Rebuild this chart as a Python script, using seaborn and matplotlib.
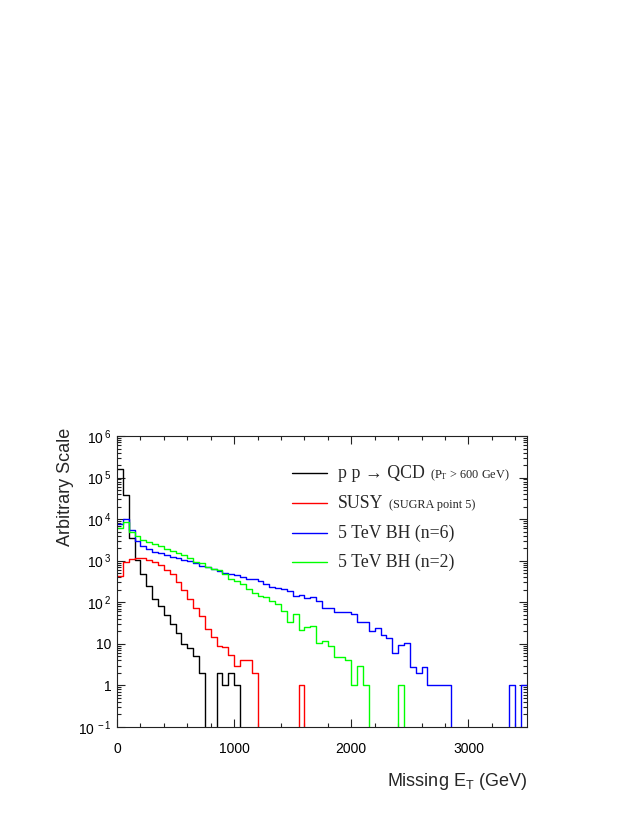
import numpy as np
import pandas as pd
import matplotlib
matplotlib.use("Agg")
import matplotlib.pyplot as plt
import seaborn as sns
from matplotlib.ticker import FixedLocator, MultipleLocator, NullFormatter

# -------------------------------
# 1. Data (counts per 50 GeV bin of missing ET, 0 - 3500 GeV)
# -------------------------------
bin_width = 50
x_max = 3500

qcd = [1.6e5, 3.8e4, 3.5e3, 1.05e3, 480, 250, 120, 80, 50, 30,
       18, 10, 8, 5, 2, 0, 0, 2, 1, 2,
       1, 0, 0, 0, 0, 0, 0, 0, 0, 0,
       0, 0, 0, 0, 0, 0, 0, 0, 0, 0,
       0, 0, 0, 0, 0, 0, 0, 0, 0, 0,
       0, 0, 0, 0, 0, 0, 0, 0, 0, 0,
       0, 0, 0, 0, 0, 0, 0, 0, 0, 0]

susy = [420, 920, 1080, 1150, 1150, 1050, 950, 800, 600, 470,
        310, 195, 123, 74, 47, 23, 15, 9, 8.5, 5.5,
        3, 4, 4, 2, 0, 0, 0, 0, 0, 0,
        0, 1, 0, 0, 0, 0, 0, 0, 0, 0,
        0, 0, 0, 0, 0, 0, 0, 0, 0, 0,
        0, 0, 0, 0, 0, 0, 0, 0, 0, 0,
        0, 0, 0, 0, 0, 0, 0, 0, 0, 0]

bh_n6 = [7500, 10000, 5500, 3000, 2300, 1900, 1650, 1500, 1350, 1250,
         1150, 1050, 1000, 890, 760, 690, 620, 570, 520, 490,
         445, 400, 360, 360, 320, 270, 230, 220, 205, 187,
         141, 148, 128, 135, 108, 71, 71, 57, 59, 59,
         51, 34, 34, 20, 23.5, 16, 13.5, 6, 9.3, 10.6,
         2.8, 2, 2.8, 1, 1, 1, 1, 0, 0, 0,
         0, 0, 0, 0, 0, 0, 0, 1, 0, 1]

bh_n2 = [6200, 8500, 5000, 3900, 3200, 2800, 2500, 2200, 1950, 1700,
         1500, 1350, 1180, 930, 870, 720, 615, 590, 470, 370,
         330, 270, 210, 163, 138, 132, 110, 90, 62, 34,
         52, 21, 25, 27, 10.7, 11.8, 8.9, 4.8, 4.8, 4,
         1, 3, 1, 0, 0, 0, 0, 0, 1, 0,
         0, 0, 0, 0, 0, 0, 0, 0, 0, 0,
         0, 0, 0, 0, 0, 0, 0, 0, 0, 0]

series_names = ["qcd", "susy", "bh6", "bh2"]
series_colors = {"qcd": "#000000", "susy": "#ff0000", "bh6": "#0000ff", "bh2": "#00ff00"}
legend_main = ["p p \u2192 QCD", "SUSY", "5 TeV BH (n=6)", "5 TeV BH (n=2)"]
legend_note = [r"(P$\mathregular{_T}$ > 600 GeV)", "(SUGRA point 5)", "", ""]

y_ticks = [1e-1, 1, 10, 1e2, 1e3, 1e4, 1e5, 1e6]
y_tick_labels = [r"$\mathregular{10^{\,-1}}$", "1", "10", r"$\mathregular{10^{\,2}}$",
                 r"$\mathregular{10^{\,3}}$", r"$\mathregular{10^{\,4}}$",
                 r"$\mathregular{10^{\,5}}$", r"$\mathregular{10^{\,6}}$"]
x_ticks = [0, 1000, 2000, 3000]
x_tick_labels = ["0", "1000", "2000", "3000"]

# -------------------------------
# 2. Long-form table
# -------------------------------
centers = np.arange(bin_width / 2, x_max, bin_width)
df = pd.concat([
    pd.DataFrame({"met": centers, "count": vals, "sample": name})
    for name, vals in zip(series_names, [qcd, susy, bh_n6, bh_n2])
], ignore_index=True)

# -------------------------------
# 3. Plot
# -------------------------------
sns.set_style("ticks")
plt.rcParams["font.family"] = ["Liberation Sans", "DejaVu Sans"]

fig = plt.figure(figsize=(6.31, 8.16), dpi=100)
ax = fig.add_axes([0.1854, 0.1091, 0.6498, 0.3566])

sns.histplot(
    data=df, x="met", weights="count", hue="sample",
    hue_order=["bh2", "bh6", "susy", "qcd"],
    palette=series_colors, binwidth=bin_width, binrange=(0, x_max),
    element="step", fill=False, linewidth=1.0, legend=False, ax=ax,
)

ax.set_yscale("log")
ax.set_xlim(0, x_max)
ax.set_ylim(1e-1, 1e6)

ax.yaxis.set_major_locator(FixedLocator(y_ticks))
ax.set_yticklabels(y_tick_labels)
ax.yaxis.set_minor_locator(FixedLocator(
    [m * 10.0 ** e for e in range(-1, 6) for m in range(2, 10)]))
ax.yaxis.set_minor_formatter(NullFormatter())

ax.xaxis.set_major_locator(FixedLocator(x_ticks))
ax.set_xticklabels(x_tick_labels)
ax.xaxis.set_minor_locator(MultipleLocator(200))

ax.tick_params(which="both", direction="in", top=True, right=True,
               width=0.8, colors="#222222", labelcolor="black")
ax.tick_params(which="major", length=6)
ax.tick_params(which="minor", length=3)
ax.tick_params(axis="x", which="major", labelsize=10, pad=10.5)
ax.tick_params(axis="y", which="major", labelsize=10, pad=4)

for sp in ax.spines.values():
    sp.set_linewidth(0.8)
    sp.set_color("#222222")

ax.set_xlabel(r"Missing $\mathregular{E_T}$ (GeV)", fontsize=13, loc="right")
ax.xaxis.set_label_coords(1.0, -0.15)
ax.set_ylabel("Arbitrary Scale", fontsize=13, loc="top")
ax.yaxis.set_label_coords(-0.105, 1.03)

# -------------------------------
# 4. Legend (drawn by hand, ROOT style)
# -------------------------------
row_y = [0.873, 0.770, 0.667, 0.567]
for name, main, note, y in zip(series_names, legend_main, legend_note, row_y):
    ax.plot([0.427, 0.512], [y, y], transform=ax.transAxes,
            color=series_colors[name], lw=1.0)
    t = ax.text(0.539, y - 0.017, main, transform=ax.transAxes,
                va="baseline", ha="left", fontsize=12.8,
                family=["Liberation Serif", "DejaVu Serif"])
    if note:
        ax.annotate(note, xy=(1, y - 0.017), xycoords=(t, ax.transAxes),
                    xytext=(4, 0), textcoords="offset points",
                    va="baseline", ha="left", fontsize=8.8,
                    family=["Liberation Serif", "DejaVu Serif"])

fig.savefig("out.png", dpi=100)
